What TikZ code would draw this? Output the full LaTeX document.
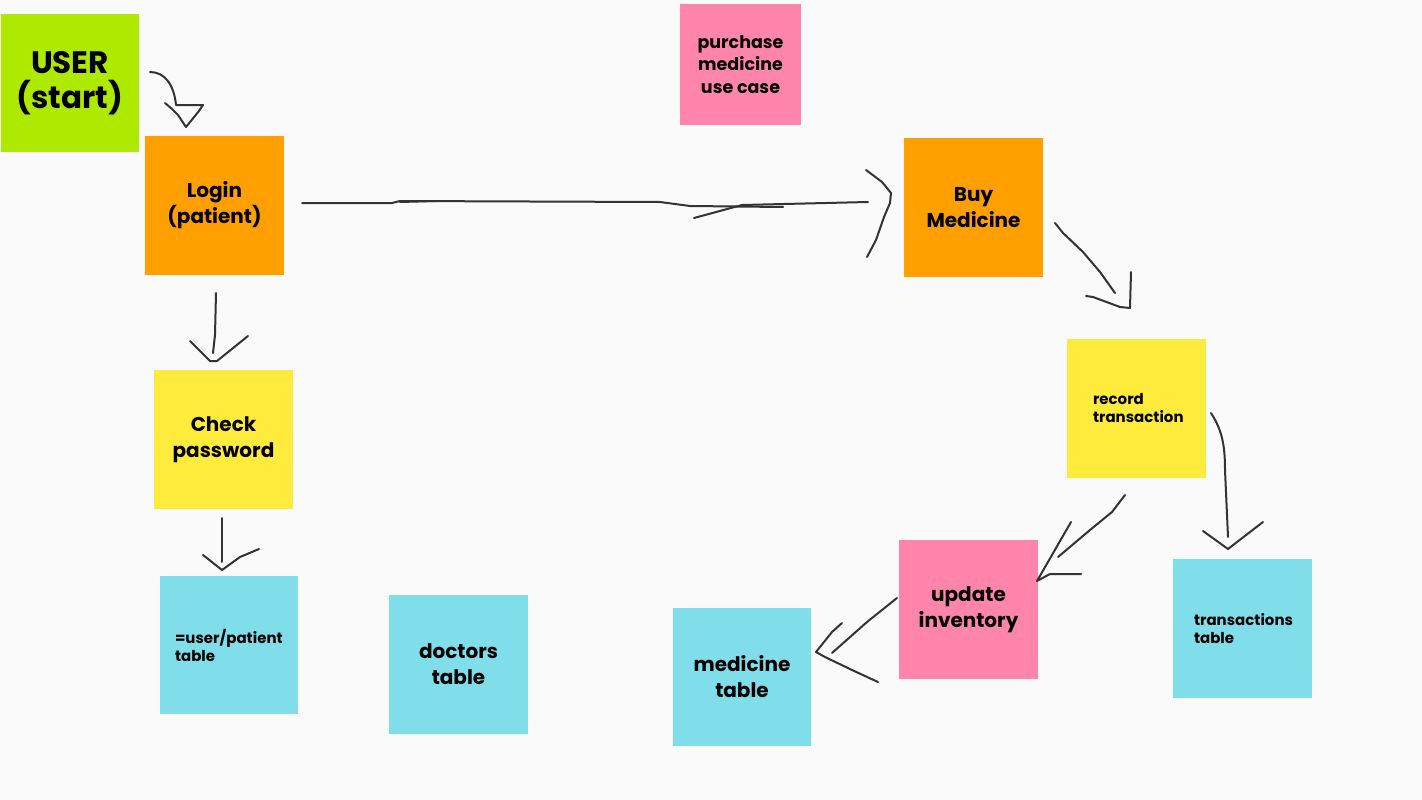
\documentclass[tikz,border=0pt]{standalone}
\usepackage{fontspec}
\setmainfont{Poppins}
\definecolor{bg}{HTML}{FAFAFA}
\definecolor{lime}{HTML}{AEEA00}
\definecolor{pinkn}{HTML}{FF85AD}
\definecolor{orangen}{HTML}{FF9F00}
\definecolor{yellown}{HTML}{FFEB3B}
\definecolor{cyann}{HTML}{80DEEA}
\definecolor{ink}{HTML}{333333}
\tikzset{
  note/.style={rectangle, inner sep=0pt, minimum width=139pt, minimum height=139pt, align=center, text=black},
  bigtxt/.style={font=\fontsize{20}{26}\selectfont\bfseries},
  smalltxt/.style={font=\fontsize{15}{18}\selectfont\bfseries},
  hand/.style={draw=ink, line width=2pt, line cap=round, line join=round},
}
\begin{document}
\begin{tikzpicture}[x=1pt,y=-1pt]
\fill[bg] (0,0) rectangle (1422,800);
\useasboundingbox (0,0) rectangle (1422,800);

\node[note, fill=lime, minimum width=138pt, minimum height=138pt, font=\fontsize{31}{35}\selectfont\bfseries] (user) at (70,83) {USER\\(start)};
\node[note, fill=pinkn, minimum width=121pt, minimum height=121pt, font=\fontsize{17.5}{22.5}\selectfont\bfseries] (usecase) at (740.5,64.5) {purchase\\medicine\\use case};
\node[note, fill=orangen, bigtxt] (login) at (214.5,205.5) {Login\\(patient)};
\node[note, fill=orangen, bigtxt] (buy) at (973.5,207.5) {Buy\\Medicine};
\node[note, fill=yellown, bigtxt] (check) at (223.5,439.5) {Check\\password};
\node[note, fill=yellown, smalltxt, align=left, text width=87pt, inner xsep=26pt] (record) at (1136.5,408.5) {record\\transaction};
\node[note, fill=cyann, smalltxt, align=left, minimum width=138pt, minimum height=138pt, text width=108pt, inner xsep=15pt] (userpat) at (229,645) {=user/patient\\table};
\node[note, fill=cyann, bigtxt] (doctors) at (458.5,664.5) {doctors\\table};
\node[note, fill=cyann, bigtxt, minimum width=138pt, minimum height=138pt] (medicine) at (742,677) {medicine\\table};
\node[note, fill=pinkn, bigtxt] (update) at (968.5,609.5) {update\\inventory};
\node[note, fill=cyann, smalltxt, align=left, text width=97pt, inner xsep=21pt] (trans) at (1242.5,628.5) {transactions\\table};

% USER -> Login
\draw[hand] (150,72) .. controls (165,72) and (174,85) .. (176,105) -- (203,105) -- (199,111) -- (186,127) -- (178,115) -- (172,109) -- (165,103);
% Login -> Buy
\draw[hand] (302,203) -- (392,203) -- (400,201) -- (660,202) -- (690,206) -- (783,207);
\draw[hand] (400,202) -- (436,201);
\draw[hand] (694,218) -- (742,205) -- (868,202);
\draw[hand] (866,170) -- (882,182) -- (891,193) -- (890,203) -- (884,217) -- (876,240) -- (867,257);
% Buy -> record
\draw[hand] (1055,223) -- (1063,233) -- (1083,252) -- (1100,272) -- (1115,293);
\draw[hand] (1086,296) -- (1093,297) -- (1120,307) -- (1130,308) -- (1131,272);
% record -> update
\draw[hand] (1125,495) -- (1112,512) -- (1090,530) -- (1058,557);
\draw[hand] (1071,522) -- (1037,581) -- (1050,574) -- (1081,574);
% record -> transactions
\draw[hand] (1211,413) .. controls (1222,430) and (1225,445) .. (1225,470) -- (1228,537);
\draw[hand] (1203,531) -- (1228,549) -- (1237,542) -- (1263,522);
% update -> medicine
\draw[hand] (897,598) -- (867,622) -- (832,653);
\draw[hand] (842,623) -- (832,632) -- (816,652) -- (825,657) -- (852,670) -- (878,682);
% Login -> Check
\draw[hand] (216,293) -- (215,335) -- (213,353);
\draw[hand] (190,341) -- (210,361) -- (217,361) -- (248,336);
% Check -> user/patient table
\draw[hand] (222,518) -- (222,562);
\draw[hand] (203,555) -- (222,570) -- (240,557) -- (259,549);
\end{tikzpicture}
\end{document}
